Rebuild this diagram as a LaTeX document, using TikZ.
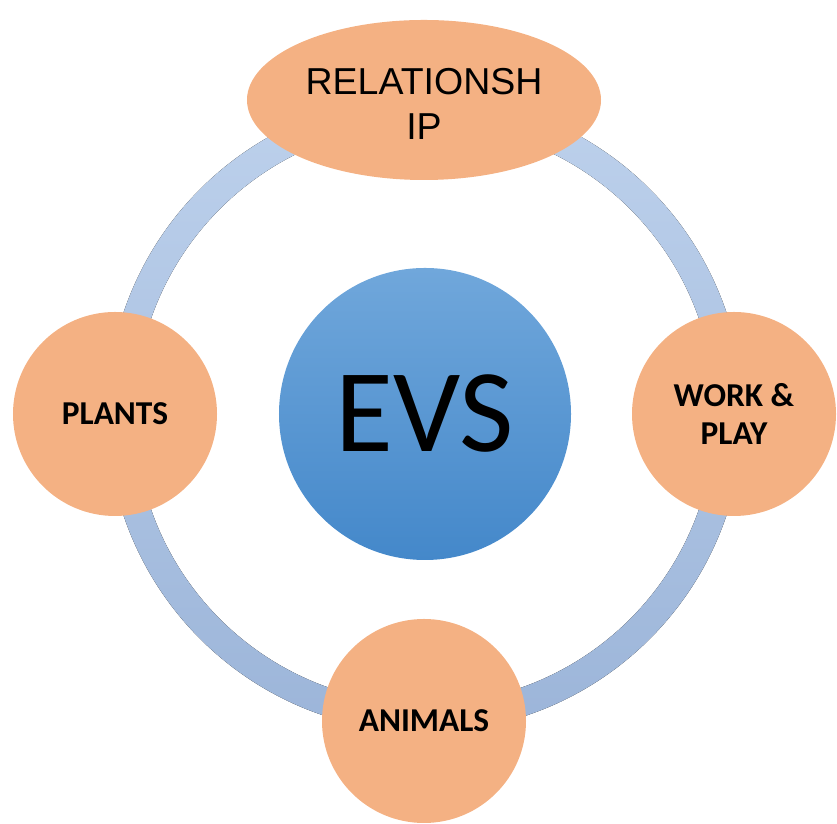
\documentclass[tikz,border=0pt]{standalone}
\usepackage{fontspec}
\setmainfont{Carlito}
\newfontfamily\arialfont{Liberation Sans}
\usetikzlibrary{shapes.geometric}
\definecolor{peach}{HTML}{F4B183}
\definecolor{ringtop}{HTML}{BDD1EC}
\definecolor{ringbot}{HTML}{9CB5D9}
\definecolor{evstop}{HTML}{70A7DB}
\definecolor{evsbot}{HTML}{4488CA}
\newcommand\ringr{304}
\newcommand\ringw{14}

\begin{document}
\begin{tikzpicture}[x=0.03cm,y=0.03cm,
  topic/.style={circle,fill=peach,minimum size=6.12cm,inner sep=0pt,align=center,
    font=\bfseries\fontsize{28.5}{33}\selectfont}]
\useasboundingbox (0,0) rectangle (837,824);
% ring behind everything
\coordinate (O) at (425,410);
\fill[top color=ringtop,bottom color=ringbot,even odd rule]
  (O) circle (\ringr+\ringw) (O) circle (\ringr-\ringw);
\node[ellipse,fill=peach,minimum width=10.62cm,minimum height=4.8cm,inner sep=0pt] (rel) at (424,724) {};
\node[align=center,font=\arialfont\fontsize{32}{38}\selectfont] (reltext)
  at ([yshift=-0.12cm]rel.center) {RELATIONSH\\IP};
\node[topic] (plants) at (115,410) {PLANTS};
\node[topic] (work) at (734,410) {WORK \&\\PLAY};
\node[topic] (animals) at (424,103) {ANIMALS};
\node[circle,top color=evstop,bottom color=evsbot,minimum size=8.76cm,inner sep=0pt,
  font=\fontsize{101}{110}\selectfont] (evs) at (O) {EVS};
\end{tikzpicture}
\end{document}
